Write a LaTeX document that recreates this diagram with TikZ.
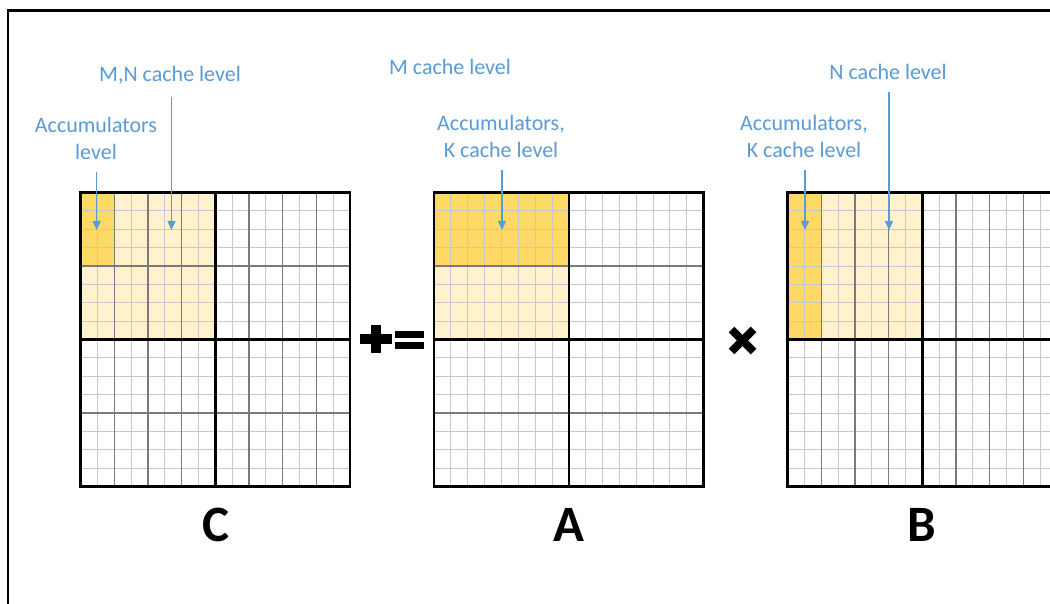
\documentclass[tikz,border=0pt]{standalone}
\usepackage{fontspec}
\setmainfont{Carlito}
\usetikzlibrary{arrows.meta}
\definecolor{lblue}{HTML}{5B9BD5}
\definecolor{darkyel}{HTML}{FFD966}
\definecolor{lightyel}{HTML}{FFF2CC}
\definecolor{gridlight}{HTML}{C8C8C8}
\definecolor{gridmid}{HTML}{7A7A7A}
\tikzset{
  lab/.style={text=lblue, font=\fontsize{22}{27}\selectfont, inner sep=0pt, align=center},
  arr/.style={draw=lblue, line width=1.1pt, -{Triangle[width=8pt,length=9pt]}, shorten <=12pt},
  big/.style={font=\fontsize{51}{51}\selectfont\bfseries, inner sep=0pt, anchor=base},
  thin/.style={draw=gridlight, line width=0.9pt},
  midl/.style={draw=gridmid, line width=1.3pt},
  thick/.style={draw=black, line width=2.4pt},
}
\begin{document}
\begin{tikzpicture}[x=1pt,y=-1pt]
\useasboundingbox (0,0) rectangle (1050,604);
\clip (0,0) rectangle (1050,604);
\fill[white] (0,0) rectangle (1050,604);
% outer frame
\draw[line width=2.5pt] (8,640) -- (8,10.5) -- (1080,10.5);

\def\cw{16.85}
\def\ch{18.375}

% ---------- C ----------
\begin{scope}[shift={(80.5,192.5)}]
  \fill[lightyel] (0,0) rectangle (8*\cw,8*\ch);
  \fill[darkyel] (0,0) rectangle (2*\cw,4*\ch);
  \foreach \i in {1,...,15} {
    \draw[thin] (\i*\cw,0) -- (\i*\cw,16*\ch);
    \draw[thin] (0,\i*\ch) -- (16*\cw,\i*\ch);
  }
  \foreach \i in {2,4,6,10,12,14} \draw[midl] (\i*\cw,0) -- (\i*\cw,16*\ch);
  \foreach \i in {4,12} \draw[midl] (0,\i*\ch) -- (16*\cw,\i*\ch);
  \draw[thick] (8*\cw,0) -- (8*\cw,16*\ch);
  \draw[thick] (0,8*\ch) -- (16*\cw,8*\ch);
  \draw[thick] (0,0) rectangle (16*\cw,16*\ch);
\end{scope}

% ---------- A ----------
\begin{scope}[shift={(434,192.5)}]
  \fill[darkyel] (0,0) rectangle (8*\cw,4*\ch);
  \fill[lightyel] (0,4*\ch) rectangle (8*\cw,8*\ch);
  \foreach \i in {1,...,15} {
    \draw[thin] (\i*\cw,0) -- (\i*\cw,16*\ch);
    \draw[thin] (0,\i*\ch) -- (16*\cw,\i*\ch);
  }
  \foreach \i in {4,12} \draw[midl] (0,\i*\ch) -- (16*\cw,\i*\ch);
  \draw[thick] (8*\cw,0) -- (8*\cw,16*\ch);
  \draw[thick] (0,8*\ch) -- (16*\cw,8*\ch);
  \draw[thick] (0,0) rectangle (16*\cw,16*\ch);
\end{scope}

% ---------- B ----------
\begin{scope}[shift={(787.5,192.5)}]
  \fill[darkyel] (0,0) rectangle (2*\cw,8*\ch);
  \fill[lightyel] (2*\cw,0) rectangle (8*\cw,8*\ch);
  \foreach \i in {1,...,15} {
    \draw[thin] (\i*\cw,0) -- (\i*\cw,16*\ch);
    \draw[thin] (0,\i*\ch) -- (16*\cw,\i*\ch);
  }
  \foreach \i in {2,4,6,10,12,14} \draw[midl] (\i*\cw,0) -- (\i*\cw,16*\ch);
  \draw[thick] (8*\cw,0) -- (8*\cw,16*\ch);
  \draw[thick] (0,8*\ch) -- (16*\cw,8*\ch);
  \draw[thick] (0,0) rectangle (16*\cw,16*\ch);
\end{scope}

% ---------- operators ----------
\fill[black] (371,325) rectangle (381,353);
\fill[black] (360,334) rectangle (392,344);
\fill[black] (395,331) rectangle (424,338);
\fill[black] (395,342) rectangle (424,349);
\draw[line width=8pt] (731.5,329.5) -- (753.5,351.5);
\draw[line width=8pt] (731.5,351.5) -- (753.5,329.5);

% ---------- labels ----------
\node[lab, anchor=base] (mn) at (170,82) {M,N cache level};
\node[lab, anchor=south] (accC) at (96,160) {Accumulators\\level};
\node[lab, anchor=base] (mcl) at (450,75) {M cache level};
\node[lab, anchor=south] (accA) at (501,158) {Accumulators,\\K cache level};
\node[lab, anchor=base] (ncl) at (888,80) {N cache level};
\node[lab, anchor=south] (accB) at (804,158) {Accumulators,\\K cache level};

\coordinate (tC1) at (96.7,230);
\coordinate (tC2) at (171.5,230);
\coordinate (tA) at (502,230);
\coordinate (tB1) at (805,230);
\coordinate (tB2) at (889,230);

\draw[arr] (accC.south -| tC1) -- (tC1);
\draw[arr] (mn.south -| tC2) -- (tC2);
\draw[arr] (accA.south -| tA) -- (tA);
\draw[arr] (accB.south -| tB1) -- (tB1);
\draw[arr] (ncl.south -| tB2) -- (tB2);

% ---------- matrix names ----------
\node[big] (nC) at (216,541) {C};
\node[big] (nA) at (569,541) {A};
\node[big] (nB) at (922,541) {B};
\end{tikzpicture}
\end{document}
